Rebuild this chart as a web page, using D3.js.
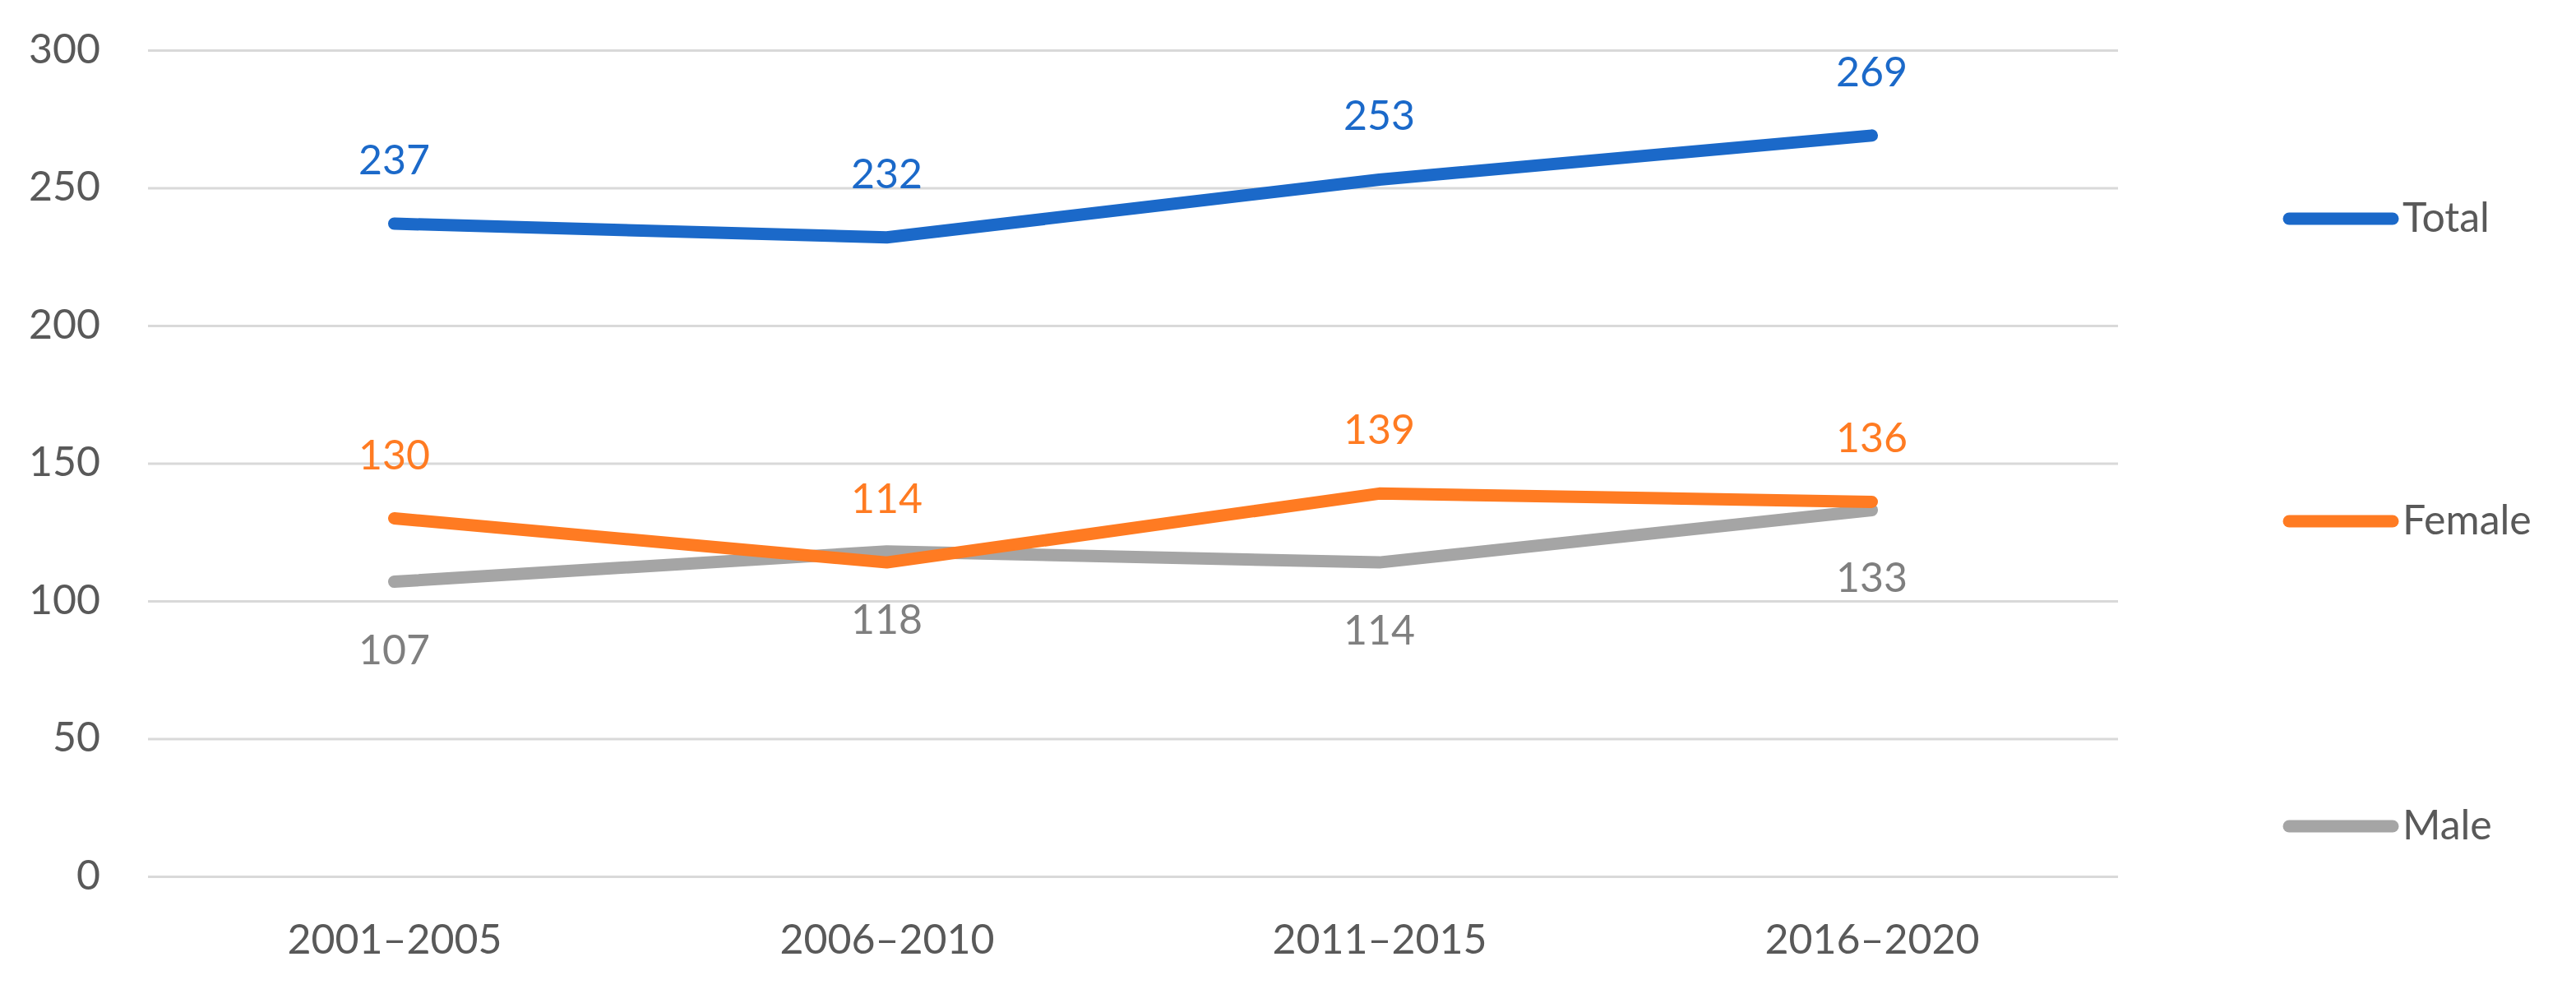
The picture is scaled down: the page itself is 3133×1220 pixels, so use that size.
<!DOCTYPE html>
<html>
<head>
<meta charset="utf-8">
<script src="https://cdn.jsdelivr.net/npm/d3@7"></script>
<style>
  body { margin: 0; background: #ffffff; }
  text { font-family: Lato, "Open Sans", sans-serif; }
</style>
</head>
<body>
<div id="vis"></div>
<script>
// data
const PERIODS = ["2001–2005", "2006–2010", "2011–2015", "2016–2020"];
const TOTAL = [237, 232, 253, 269];
const FEMALE = [130, 114, 139, 136];
const MALE = [107, 118, 114, 133];
const Y_TICKS = [0, 50, 100, 150, 200, 250, 300];

const WIDTH = 3133;
const HEIGHT = 1220;
const MARG = {left: 180, right: 557, top: 61, bottom: 154};

const VIS_WIDTH = WIDTH - MARG.left - MARG.right;
const VIS_HEIGHT = HEIGHT - MARG.top - MARG.bottom;

const SERIES = [
  {name: "Total", values: TOTAL, color: "#1b69c9", label: "#1b69c9", pos: "above"},
  {name: "Female", values: FEMALE, color: "#ff7b22", label: "#ff7b22", pos: "above"},
  {name: "Male", values: MALE, color: "#a5a5a5", label: "#7f7f7f", pos: "below"}
];

const FRAME = d3.select("#vis")
  .append("svg")
    .attr("width", WIDTH)
    .attr("height", HEIGHT);

const X_SCALE = d3.scalePoint()
  .domain(PERIODS)
  .range([0, VIS_WIDTH])
  .padding(0.5);

const Y_SCALE = d3.scaleLinear()
  .domain([0, 300])
  .range([VIS_HEIGHT, 0]);

const g = FRAME.append("g")
  .attr("transform", "translate(" + MARG.left + "," + MARG.top + ")");

// gridlines + y labels
const yAxis = g.append("g")
  .call(d3.axisLeft(Y_SCALE).tickValues(Y_TICKS).tickSize(-VIS_WIDTH).tickPadding(58));
yAxis.select(".domain").remove();
yAxis.selectAll(".tick line")
  .attr("stroke", "#d9d9d9")
  .attr("stroke-width", 3);
yAxis.selectAll(".tick text")
  .attr("font-size", "50px")
  .attr("fill", "#595959")
  .attr("dy", "0.3em");

// category labels
const xAxis = g.append("g")
  .attr("transform", "translate(0," + VIS_HEIGHT + ")")
  .call(d3.axisBottom(X_SCALE).tickSize(0).tickPadding(58));
xAxis.select(".domain").remove();
xAxis.selectAll(".tick text")
  .attr("font-size", "50px")
  .attr("fill", "#595959");

const line = d3.line()
  .x((d, i) => X_SCALE(PERIODS[i]))
  .y((d) => Y_SCALE(d));

// draw male first so female/total sit on top like the reference
[SERIES[2], SERIES[1], SERIES[0]].forEach((s) => {
  g.append("path")
    .datum(s.values)
    .attr("fill", "none")
    .attr("stroke", s.color)
    .attr("stroke-width", 15)
    .attr("stroke-linecap", "round")
    .attr("stroke-linejoin", "round")
    .attr("d", line);
});

// data labels
SERIES.forEach((s) => {
  g.selectAll(".lbl-" + s.name)
    .data(s.values)
    .enter()
    .append("text")
      .attr("x", (d, i) => X_SCALE(PERIODS[i]))
      .attr("y", (d) => s.pos == "above" ? Y_SCALE(d) - 60 : Y_SCALE(d) + 100)
      .attr("text-anchor", "middle")
      .attr("font-size", "50px")
      .attr("fill", s.label)
      .text((d) => d);
});

// legend
const LEGEND_Y = [266, 634, 1005];
const legend = FRAME.append("g");
SERIES.forEach((s, i) => {
  legend.append("line")
    .attr("x1", 2784)
    .attr("x2", 2910)
    .attr("y1", LEGEND_Y[i])
    .attr("y2", LEGEND_Y[i])
    .attr("stroke", s.color)
    .attr("stroke-width", 15)
    .attr("stroke-linecap", "round");
  legend.append("text")
    .attr("x", 2922)
    .attr("y", LEGEND_Y[i] + 16)
    .attr("font-size", "50px")
    .attr("fill", "#595959")
    .text(s.name);
});
</script>
</body>
</html>
